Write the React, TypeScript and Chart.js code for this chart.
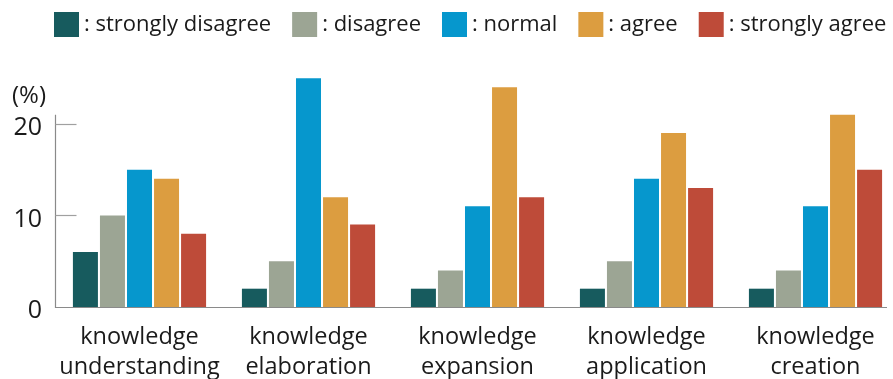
import { useEffect, useRef } from 'react';
import { Chart, registerables } from 'chart.js';

Chart.register(...registerables);

// Categories (two-line tick labels)
const categories: string[][] = [
  ['knowledge', 'understanding'],
  ['knowledge', 'elaboration'],
  ['knowledge', 'expansion'],
  ['knowledge', 'application'],
  ['knowledge', 'creation'],
];

// Response shares (%) per category
const stronglyDisagree = [6, 2, 2, 2, 2];
const disagree = [10, 5, 4, 5, 4];
const normal = [15, 25, 11, 14, 11];
const agree = [14, 12, 24, 19, 21];
const stronglyAgree = [8, 9, 12, 13, 15];

const seriesNames = ['strongly disagree', 'disagree', 'normal', 'agree', 'strongly agree'];
const seriesColors = ['#175b5e', '#9ca594', '#0697cd', '#dc9d40', '#be4b39'];

const yTickValues = [0, 10, 20];
const yMax = 26;
const yAxisTop = 21;
const yUnit = '(%)';

const FONT = '"Open Sans", "Noto Sans", sans-serif';

const decorPlugin = {
  id: 'decor',
  afterDraw(chart: any) {
    const { ctx, chartArea, scales } = chart;
    const y = scales.y;
    const left = Math.round(chartArea.left) + 0.5;
    const zero = Math.round(y.getPixelForValue(0)) + 0.5;
    const top = y.getPixelForValue(yAxisTop);
    ctx.save();

    // axis lines
    ctx.strokeStyle = '#8a8a8a';
    ctx.lineWidth = 1.2;
    ctx.beginPath();
    ctx.moveTo(left, top);
    ctx.lineTo(left, zero);
    ctx.lineTo(chartArea.right - 13, zero);
    ctx.stroke();

    // inner tick marks
    ctx.strokeStyle = '#a0a0a0';
    ctx.lineWidth = 1.2;
    yTickValues.filter((v) => v > 0).forEach((v) => {
      const py = Math.round(y.getPixelForValue(v)) + 0.5;
      ctx.beginPath();
      ctx.moveTo(left, py);
      ctx.lineTo(left + 21, py);
      ctx.stroke();
    });

    // unit label
    ctx.fillStyle = '#1a1a1a';
    ctx.font = `24px ${FONT}`;
    ctx.textBaseline = 'middle';
    ctx.textAlign = 'left';
    ctx.fillText(yUnit, 12, 96);

    // legend
    ctx.font = `22px ${FONT}`;
    let lx = 54;
    chart.data.datasets.forEach((ds: any) => {
      ctx.fillStyle = ds.backgroundColor;
      ctx.fillRect(lx, 12, 25, 25);
      ctx.fillStyle = '#1a1a1a';
      const text = ': ' + ds.label;
      ctx.fillText(text, lx + 30, 25);
      lx += 30 + ctx.measureText(text).width + 21;
    });

    ctx.restore();
  },
};

export default function App() {
  const canvasRef = useRef<HTMLCanvasElement | null>(null);

  useEffect(() => {
    if (!canvasRef.current) return;
    const values = [stronglyDisagree, disagree, normal, agree, stronglyAgree];
    const chart = new Chart(canvasRef.current, {
      type: 'bar',
      data: {
        labels: categories,
        datasets: values.map((data, i) => ({
          label: seriesNames[i],
          data,
          backgroundColor: seriesColors[i],
          borderWidth: 0,
          categoryPercentage: 0.8,
          barPercentage: 0.925,
        })),
      },
      options: {
        animation: false,
        responsive: true,
        maintainAspectRatio: false,
        layout: { padding: { top: 69, right: 0, left: 0, bottom: 0 } },
        plugins: {
          legend: { display: false },
          tooltip: { enabled: false },
        },
        scales: {
          x: {
            grid: { display: false, drawTicks: false },
            border: { display: false },
            ticks: {
              autoSkip: false,
              maxRotation: 0,
              padding: 15,
              color: '#1a1a1a',
              font: { family: FONT, size: 23.5, lineHeight: 1.28 },
            },
            afterFit: (scale: any) => {
              scale.height = 72;
            },
          },
          y: {
            min: 0,
            max: yMax,
            grid: { display: false, drawTicks: false },
            border: { display: false },
            afterBuildTicks: (scale: any) => {
              scale.ticks = yTickValues.map((v) => ({ value: v }));
            },
            ticks: {
              padding: 13,
              labelOffset: 4,
              color: '#1a1a1a',
              font: { family: FONT, size: 25 },
            },
            afterFit: (scale: any) => {
              scale.width = 55;
            },
          },
        },
      },
      plugins: [decorPlugin],
    });
    return () => chart.destroy();
  }, []);

  return (
    <div style={{ position: 'fixed', left: 0, top: 0, width: 893, height: 379, overflow: 'hidden', background: '#fff' }}>
      <div style={{ position: 'absolute', left: 0, top: 0, width: 900, height: 379 }}>
        <canvas ref={canvasRef} />
      </div>
    </div>
  );
}
